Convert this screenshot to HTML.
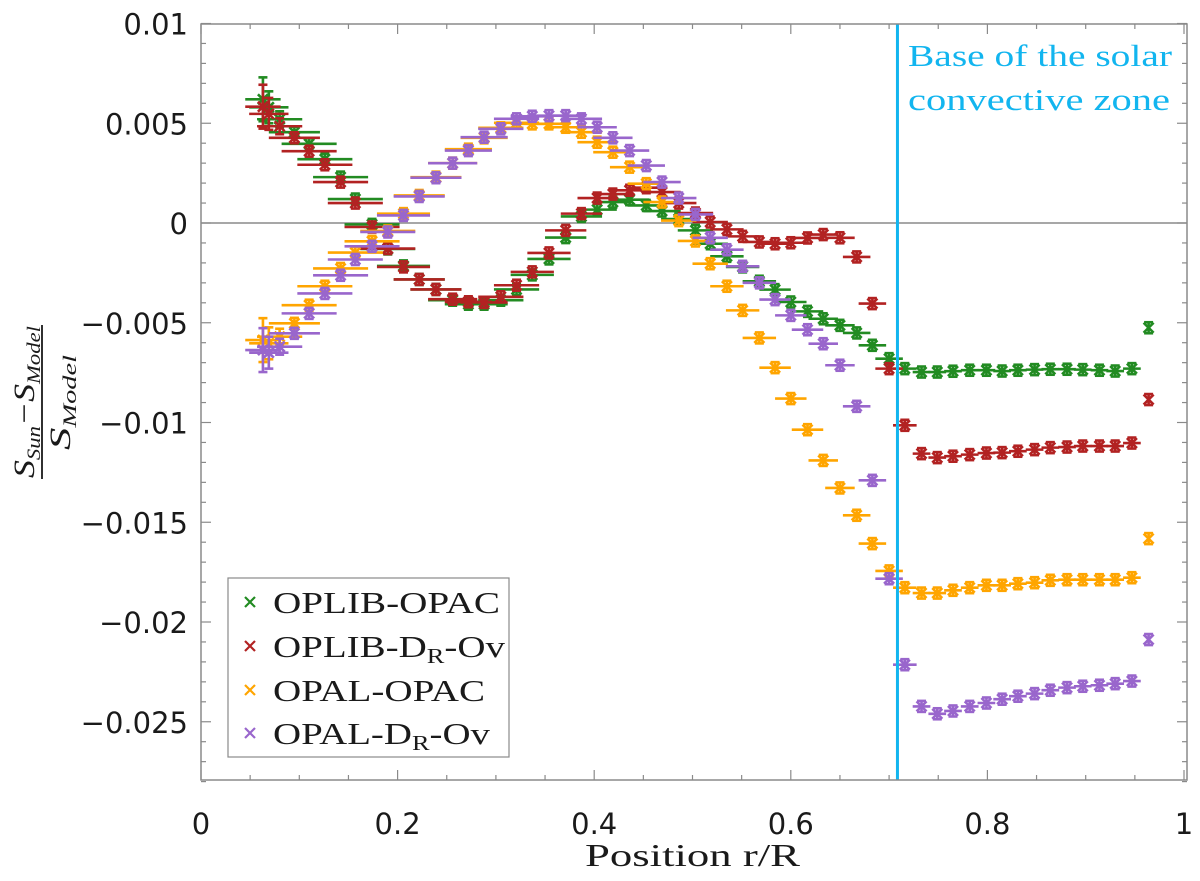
<!DOCTYPE html>
<html><head><meta charset="utf-8"><style>
html,body{margin:0;padding:0;background:#fff;width:1200px;height:881px;overflow:hidden}
svg{display:block}
.tk{font-family:"DejaVu Sans","Liberation Sans",sans-serif;font-size:29px;fill:#1a1a1a}
.sf{font-family:"Liberation Serif",serif;fill:#1a1a1a}
</style></head><body>
<svg id="chart" width="1200" height="881" viewBox="0 0 1200 881" xmlns="http://www.w3.org/2000/svg">
<g id="marks"></g>
<g id="axes"></g>
</svg>
<script>
const xPos=[0.063,0.069,0.080,0.095,0.110,0.126,0.142,0.157,0.174,0.190,0.206,0.222,0.239,0.256,0.272,0.288,0.305,0.321,0.337,0.354,0.371,0.387,0.403,0.419,0.436,0.453,0.469,0.486,
0.503,0.518,0.535,0.551,0.568,0.584,0.600,0.617,0.633,0.650,0.667,0.683,0.700,
0.716,0.733,0.749,0.765,0.782,0.799,0.815,0.831,0.848,0.864,0.881,0.897,0.914,0.930,0.947,0.964];
const xErr=[0.018,0.02,0.023,0.026,0.028,0.028,0.028,0.028,0.028,0.028,0.027,0.026,0.026,0.025,0.024,0.024,0.023,0.023,0.022,0.022,0.021,0.021,0.02,0.02,0.02,0.019,0.019,0.018,
0.018,0.018,0.017,0.017,0.017,0.016,0.016,0.016,0.015,0.015,0.014,0.014,0.014,
0.012,0.009,0.009,0.009,0.009,0.009,0.009,0.009,0.009,0.009,0.009,0.009,0.009,0.009,0.009,0];
const yErrLead=[1.1,0.8,0.4];
const oplibOpac=[6.2,5.8,5.2,4.55,3.97,3.2,2.3,1.2,-0.07,-1.3,-2.15,-2.83,-3.33,-3.87,-4.07,-4.07,-3.87,-3.33,-2.6,-1.8,-0.73,0.33,0.67,1.05,1.17,0.88,0.6,0.2,
-0.37,-1.04,-1.67,-2.2,-2.92,-3.34,-3.96,-4.43,-4.8,-5.13,-5.51,-6.13,-6.8,
-7.30,-7.47,-7.47,-7.43,-7.38,-7.38,-7.42,-7.38,-7.35,-7.33,-7.33,-7.35,-7.38,-7.42,-7.3,-5.25];
const oplibDrOv=[5.83,5.47,4.85,4.27,3.6,2.92,2.05,1.0,-0.2,-1.28,-2.2,-2.83,-3.33,-3.82,-3.95,-3.98,-3.7,-3.12,-2.45,-1.5,-0.37,0.47,1.25,1.45,1.64,1.77,1.55,1.0,
0.5,0.05,-0.32,-0.67,-0.95,-1.04,-0.99,-0.75,-0.58,-0.74,-1.7,-4.04,-7.3,
-10.14,-11.56,-11.76,-11.69,-11.61,-11.53,-11.51,-11.44,-11.36,-11.26,-11.23,-11.18,-11.18,-11.18,-11.03,-8.85];
const opalOpac=[-5.87,-6.03,-5.7,-5.03,-4.12,-3.17,-2.28,-1.48,-0.92,-0.4,0.47,1.38,2.3,3.0,3.7,4.27,4.77,5.02,4.97,4.97,4.8,4.55,4.05,3.55,2.8,1.97,1.05,0.12,
-0.9,-2.04,-3.17,-4.38,-5.76,-7.25,-8.8,-10.36,-11.9,-13.28,-14.65,-16.07,-17.44,
-18.28,-18.55,-18.55,-18.41,-18.28,-18.16,-18.16,-18.08,-18.03,-17.91,-17.88,-17.88,-17.88,-17.88,-17.78,-15.82];
const opalDrOv=[-6.37,-6.5,-6.2,-5.53,-4.53,-3.53,-2.62,-1.83,-1.17,-0.45,0.38,1.33,2.27,3.0,3.63,4.3,4.72,5.22,5.35,5.38,5.38,5.22,4.8,4.27,3.63,2.88,2.05,1.25,
0.43,-0.74,-1.34,-2.17,-3.0,-3.84,-4.63,-5.35,-6.05,-7.13,-9.19,-12.9,-17.83,
-22.14,-24.23,-24.6,-24.46,-24.23,-24.06,-23.87,-23.72,-23.59,-23.42,-23.29,-23.22,-23.17,-23.09,-22.96,-20.88];
const seriesNames=["OPLIB-OPAC","OPLIB-DR-Ov","OPAL-OPAC","OPAL-DR-Ov"];
const yTicks=[0.01,0.005,0,-0.005,-0.01,-0.015,-0.02,-0.025];
const yTickLabels=["0.01","0.005","0","\u22120.005","\u22120.01","\u22120.015","\u22120.02","\u22120.025"];
const xTicks=[0,0.2,0.4,0.6,0.8,1];
const xTickLabels=["0","0.2","0.4","0.6","0.8","1"];
const czBase=0.7085;

const L=201,R=1187,T=24,B=780;
const X=v=>L+v*983;
const Y=v=>223-v*19950;
const NS="http://www.w3.org/2000/svg";
function mk(tag,attrs,parent){const e=document.createElementNS(NS,tag);for(const k in attrs)e.setAttribute(k,attrs[k]);parent.appendChild(e);return e;}
const marks=document.getElementById('marks');
const axes=document.getElementById('axes');

const zl=mk('line',{x1:L,x2:R,y1:Y(0),y2:Y(0),stroke:'#8a8a8a','stroke-width':1.5},marks);



const colors=['#228b22','#b22222','#ffa500','#9966cc'];
const data=[oplibOpac,oplibDrOv,opalOpac,opalDrOv];
data.forEach((ser,si)=>{
  const g=mk('g',{stroke:colors[si],'stroke-width':2.6,fill:'none'},marks);
  
  
  ser.forEach((v,i)=>{
    const cx=X(xPos[i]),cy=Y(v/1000);
    const pt=mk('g',{},g);
    
    
    const xe=xErr[i]*983;
    if(xe>0) mk('line',{x1:cx-xe,x2:cx+xe,y1:cy,y2:cy},pt);
    const ye=Math.max(5.5,(i<yErrLead.length?yErrLead[i]:0.25)*19.95);
    mk('line',{x1:cx,x2:cx,y1:cy-ye,y2:cy+ye},pt);
    mk('line',{x1:cx-4.5,x2:cx+4.5,y1:cy-ye,y2:cy-ye},pt);
    mk('line',{x1:cx-4.5,x2:cx+4.5,y1:cy+ye,y2:cy+ye},pt);
    mk('path',{d:`M${cx-5},${cy-5}L${cx+5},${cy+5}M${cx-5},${cy+5}L${cx+5},${cy-5}`},pt);
  });
});

const cz=mk('line',{x1:X(czBase),x2:X(czBase),y1:T,y2:B,stroke:'#12b5ef','stroke-width':3},marks);


const czt=mk('text',{x:908,y:66,'font-size':31,fill:'#12b5ef','font-family':'"Liberation Serif",serif',textLength:264,lengthAdjust:'spacingAndGlyphs'},marks);
czt.textContent='Base of the solar';


const czt2=mk('text',{x:908,y:110,'font-size':31,fill:'#12b5ef','font-family':'"Liberation Serif",serif',textLength:262,lengthAdjust:'spacingAndGlyphs'},marks);
czt2.textContent='convective zone';



const fr=mk('rect',{x:L,y:T,width:R-L,height:B-T,fill:'none',stroke:'#8a8a8a','stroke-width':1.5},axes);


for(let k=-28;k<=10;k++){
  const v=k/1000,y=Y(v),maj=(k%5===0),len=maj?10:5;
  mk('line',{x1:L,x2:L+len,y1:y,y2:y,stroke:'#8a8a8a','stroke-width':1.2},axes);
  mk('line',{x1:R,x2:R-len,y1:y,y2:y,stroke:'#8a8a8a','stroke-width':1.2},axes);
}
for(let k=0;k<=20;k++){
  const x=X(k*0.05),maj=(k%4===0),len=maj?10:5;
  mk('line',{x1:x,x2:x,y1:B,y2:B-len,stroke:'#8a8a8a','stroke-width':1.2},axes);
  mk('line',{x1:x,x2:x,y1:T,y2:T+len,stroke:'#8a8a8a','stroke-width':1.2},axes);
}
yTicks.forEach((v,i)=>{
  const t=mk('text',{x:188,y:Y(v)+11,'text-anchor':'end',class:'tk'},axes);
  t.textContent=yTickLabels[i];
  
  
});
xTicks.forEach((v,i)=>{
  const t=mk('text',{x:X(v),y:834,'text-anchor':'middle',class:'tk'},axes);
  t.textContent=xTickLabels[i];
  
  
});
</script>
<svg style="position:absolute;left:0;top:0" width="1200" height="881" xmlns="http://www.w3.org/2000/svg">
<text x="585" y="866" class="sf" font-size="32" textLength="215" lengthAdjust="spacingAndGlyphs">Position r/R</text>
<g transform="translate(42,402) rotate(-90)">
<text x="-76" y="-8" class="sf" font-size="30" font-style="italic" textLength="152" lengthAdjust="spacingAndGlyphs">S<tspan font-size="19" dy="6">Sun</tspan><tspan dy="-6">−S</tspan><tspan font-size="19" dy="6">Model</tspan></text>
<line x1="-77" x2="77" y1="0" y2="0" stroke="#1a1a1a" stroke-width="1.8"/>
<text x="-48" y="28" class="sf" font-size="30" font-style="italic" textLength="95" lengthAdjust="spacingAndGlyphs">S<tspan font-size="19" dy="6">Model</tspan></text>
</g>
<g>
<rect x="228" y="578" width="281" height="179" fill="#fff" stroke="#8a8a8a" stroke-width="1.2"/>
<g><path d="M245,597L255,607M245,607L255,597" stroke="#228b22" stroke-width="2.2"/><text x="273" y="613" class="sf" font-size="31" textLength="227" lengthAdjust="spacingAndGlyphs">OPLIB-OPAC</text></g>
<g><path d="M245,641L255,651M245,651L255,641" stroke="#b22222" stroke-width="2.2"/><text x="273" y="657" class="sf" font-size="31" textLength="232" lengthAdjust="spacingAndGlyphs">OPLIB-D<tspan font-size="21" dy="6">R</tspan><tspan dy="-6">-Ov</tspan></text></g>
<g><path d="M245,685L255,695M245,695L255,685" stroke="#ffa500" stroke-width="2.2"/><text x="273" y="701" class="sf" font-size="31" textLength="212" lengthAdjust="spacingAndGlyphs">OPAL-OPAC</text></g>
<g><path d="M245,728L255,738M245,738L255,728" stroke="#9966cc" stroke-width="2.2"/><text x="273" y="744" class="sf" font-size="31" textLength="217" lengthAdjust="spacingAndGlyphs">OPAL-D<tspan font-size="21" dy="6">R</tspan><tspan dy="-6">-Ov</tspan></text></g>
</g>
</svg>
</body></html>
